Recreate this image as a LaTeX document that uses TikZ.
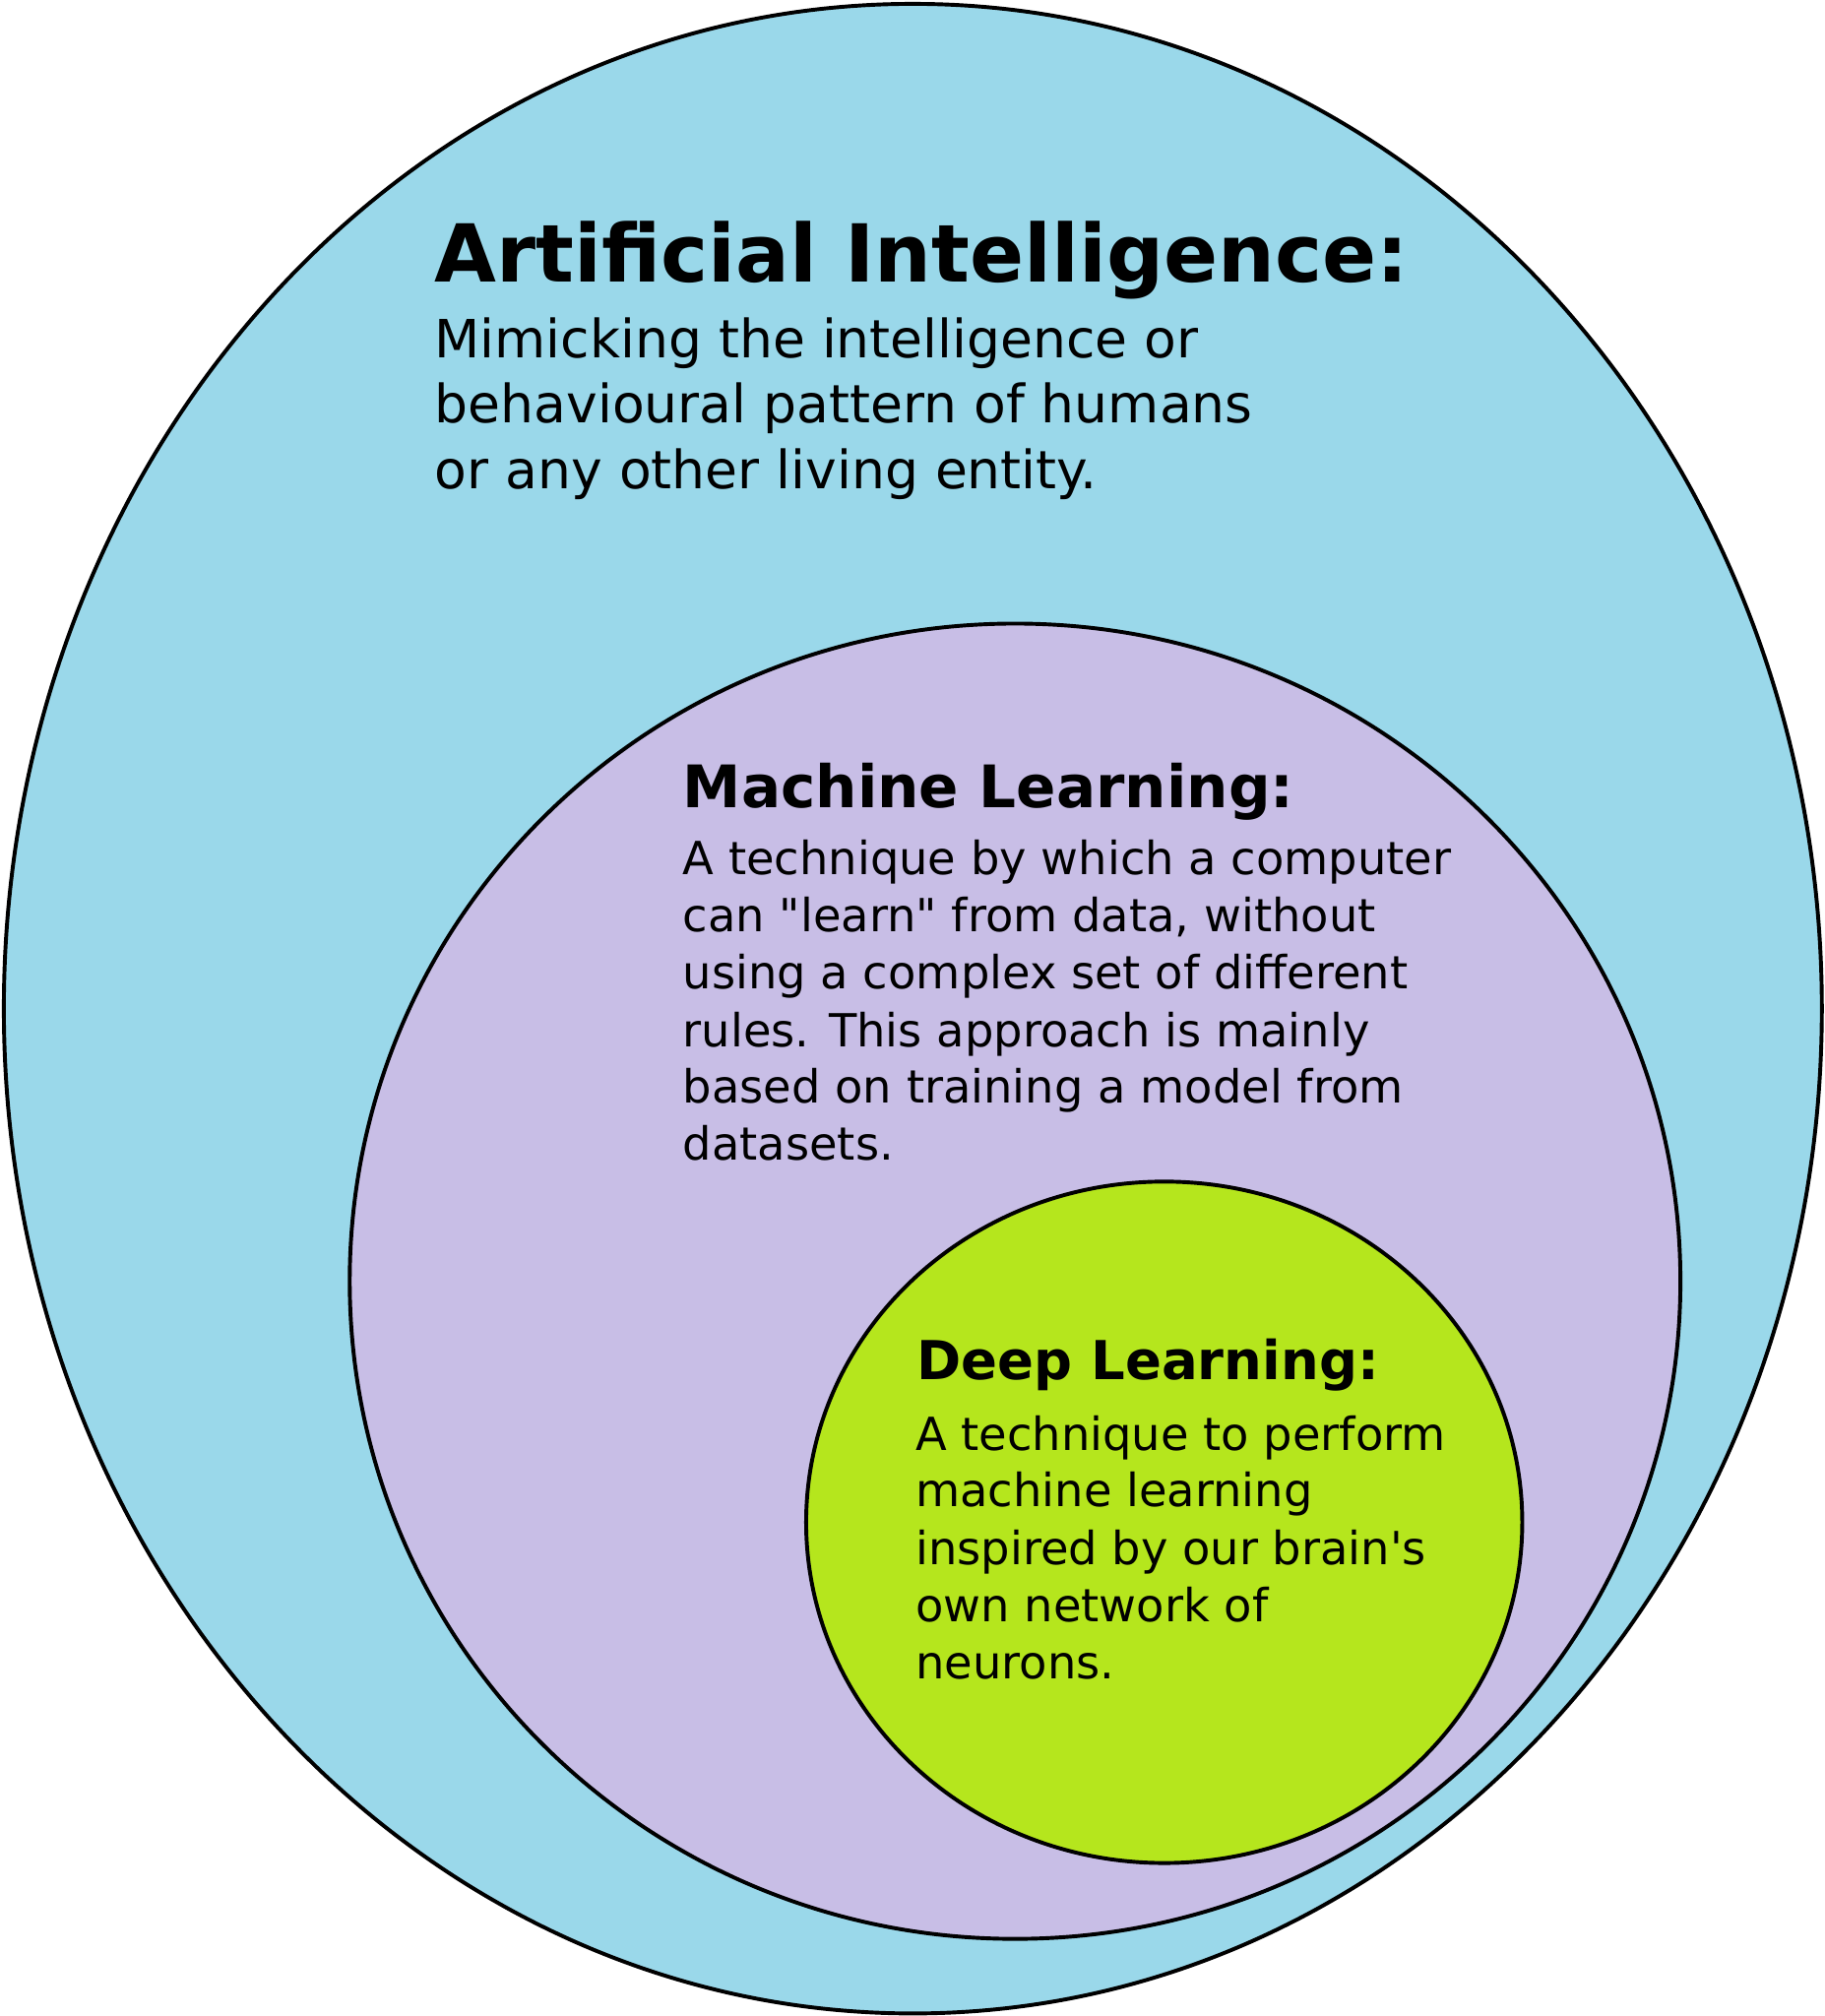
\documentclass[tikz,border=0pt]{standalone}
\usepackage{fontspec}
\setmainfont{DejaVu Sans}[Ligatures=TeXOff]
\definecolor{aiblue}{HTML}{9AD8EA}
\definecolor{mlpurple}{HTML}{C8BEE6}
\definecolor{dlgreen}{HTML}{B5E61D}
\begin{document}
\begin{tikzpicture}[x=1pt,y=-1pt,
  ring/.style={draw=black,line width=3pt},
  aititle/.style={inner sep=0pt,anchor=base west,font=\fontsize{62.2}{70}\selectfont\bfseries},
  aibody/.style={inner sep=0pt,anchor=base west,font=\fontsize{41}{50}\selectfont},
  subtitle/.style={inner sep=0pt,anchor=base west,font=\fontsize{45.6}{52}\selectfont\bfseries},
  body/.style={inner sep=0pt,anchor=base west,font=\fontsize{35.5}{44}\selectfont}]
\useasboundingbox (0,0) rectangle (1419,1568);
\fill[white] (0,0) rectangle (1419,1568);
\draw[ring,fill=aiblue] (710,784.5) ellipse [x radius=707,y radius=781.5];
\draw[ring,fill=mlpurple] (789.5,996.5) ellipse [x radius=517.5,y radius=511.5];
\draw[ring,fill=dlgreen] (905.5,1184) ellipse [x radius=278.5,y radius=265];
% AI
\node[aititle] (ait) at (338,219) {Artificial Intelligence:};
\node[aibody] (ai1) at (338,278) {Mimicking the intelligence or};
\node[aibody] (ai2) at (338,329) {behavioural pattern of humans};
\node[aibody] (ai3) at (338,380) {or any other living entity.};
% ML
\node[subtitle] (mlt) at (531,628) {Machine Learning:};
\node[body] (ml1) at (531,680) {A technique by which a computer};
\node[body] (ml2) at (531,725) {can "learn" from data, without};
\node[body] (ml3) at (531,769) {using a complex set of different};
\node[body] (ml4) at (531,814) {rules. This approach is mainly};
\node[body] (ml5) at (531,858) {based on training a model from};
\node[body] (ml6) at (531,902) {datasets.};
% DL
\node[subtitle,font=\fontsize{41.7}{48}\selectfont\bfseries] (dlt) at (713,1073) {Deep Learning:};
\node[body] (dl1) at (712,1128) {A technique to perform};
\node[body] (dl2) at (712,1172) {machine learning};
\node[body] (dl3) at (712,1217) {inspired by our brain's};
\node[body] (dl4) at (712,1261) {own network of};
\node[body] (dl5) at (712,1306) {neurons.};
\end{tikzpicture}
\end{document}
